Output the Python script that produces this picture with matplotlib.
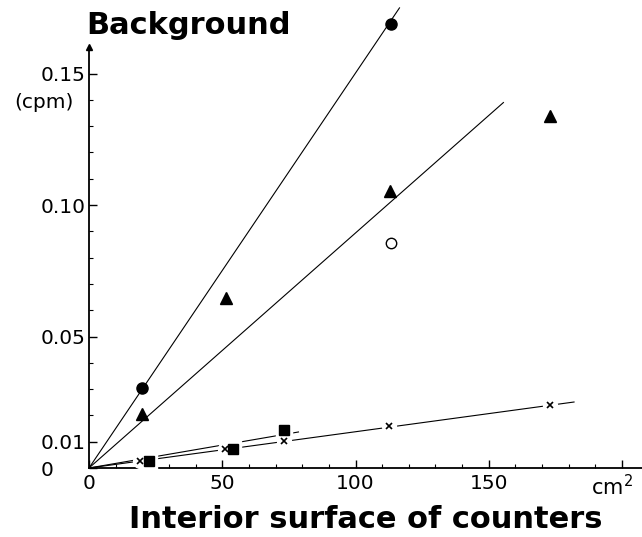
import matplotlib
matplotlib.use("Agg")
import matplotlib.pyplot as plt

# interior surface (cm2) vs background (cpm)
circle_x = [20, 113.5]
circle_y = [0.0304, 0.169]
tri_x = [20, 51.5, 113, 173]
tri_y = [0.0205, 0.0645, 0.1055, 0.134]
open_x = [113.5]
open_y = [0.0855]
square_x = [22.5, 54, 73]
square_y = [0.0028, 0.0073, 0.0145]
cross_x = [19, 51, 73, 112.4, 173]
cross_y = [0.0028, 0.0072, 0.0103, 0.0160, 0.0240]

# fitted lines through the origin: (x end, y end)
fit_lines = [
    ([0, 116.5], [0, 0.175]),
    ([0, 155.5], [0, 0.139]),
    ([0, 78.6], [0, 0.0137]),
    ([0, 182], [0, 0.0251]),
]

ytick_vals = [0, 0.01, 0.05, 0.10, 0.15]
ytick_text = ["0", "0.01", "0.05", "0.10", "0.15"]
xtick_vals = [0, 50, 100, 150, 200]
xtick_text = ["0", "50", "100", "150", ""]

plt.rcParams.update({"font.family": "DejaVu Sans"})
fig = plt.figure(figsize=(6.42, 5.37), dpi=100)
ax = fig.add_axes([89 / 642, 69 / 537, 553 / 642, 468 / 537])
ax.set_xlim(0, 207.5)
ax.set_ylim(0, 0.178)

for xs, ys in fit_lines:
    ax.plot(xs, ys, color="black", lw=0.8, zorder=2)

# white halos break the lines around the small markers
ax.plot(cross_x, cross_y, ls="none", marker="o", ms=10, mfc="white", mec="white", zorder=3)
ax.plot(square_x, square_y, ls="none", marker="s", ms=11, mfc="white", mec="white", zorder=3)
ax.plot(circle_x, circle_y, ls="none", marker="o", ms=8, color="black", zorder=4)
ax.plot(tri_x, tri_y, ls="none", marker="^", ms=9, color="black", zorder=4)
ax.plot(open_x, open_y, ls="none", marker="o", ms=7.5, mfc="white", mec="black", mew=1.0, zorder=4)
ax.plot(square_x, square_y, ls="none", marker="s", ms=7, color="black", zorder=4)
ax.plot(cross_x, cross_y, ls="none", marker="x", ms=4.5, mew=1.2, color="black", zorder=5)

for s in ["top", "right"]:
    ax.spines[s].set_visible(False)
ax.spines["left"].set_linewidth(1.3)
ax.spines["bottom"].set_linewidth(1.3)
ax.spines["left"].set_bounds(0, 0.160)
ax.plot([0], [0.160], marker="^", ms=5, color="black", clip_on=False, zorder=6)

ax.set_xticks(xtick_vals)
ax.set_xticklabels(xtick_text)
ax.set_xticks(range(10, 210, 10), minor=True)
ax.set_yticks(ytick_vals)
ax.set_yticklabels(ytick_text)
ax.set_yticks([0.02, 0.03, 0.04, 0.06, 0.07, 0.08, 0.09, 0.11, 0.12, 0.13, 0.14],
              minor=True)
ax.tick_params(which="major", direction="in", length=6, width=1.0, labelsize=14.5)
ax.tick_params(which="minor", direction="in", length=3, width=0.8)
ax.tick_params(axis="x", pad=4)
ax.tick_params(axis="y", pad=35)
for lab in ax.get_yticklabels():
    lab.set_horizontalalignment("left")

fig.text(14 / 642, 1 - 103 / 537, "(cpm)", fontsize=14.5, ha="left", va="center")
fig.text(189 / 642, 1 - 26 / 537, "Background", fontsize=22, fontweight="bold",
         ha="center", va="center")
fig.text(366 / 642, 1 - 519 / 537, "Interior surface of counters", fontsize=22,
         fontweight="bold", ha="center", va="center")
fig.text(612 / 642, 1 - 487 / 537, "cm$^2$", fontsize=15, ha="center", va="center")

fig.savefig("out.png", dpi=100)
